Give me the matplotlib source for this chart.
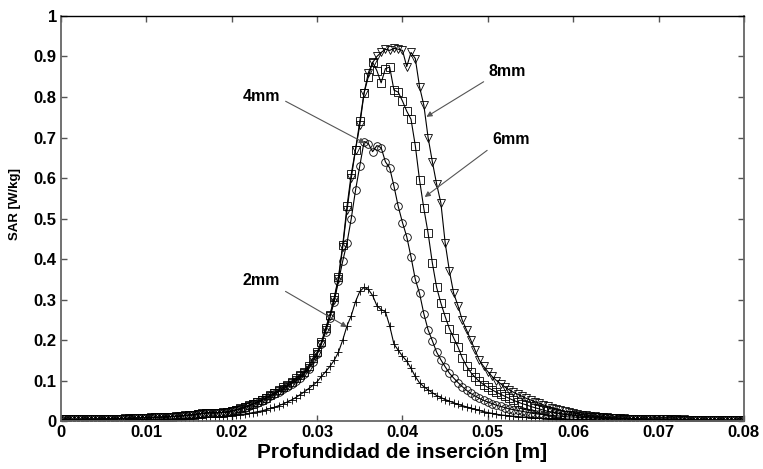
import numpy as np
import matplotlib
matplotlib.use('Agg')
import matplotlib.pyplot as plt

plt.rcParams['font.family'] = ['Liberation Sans', 'DejaVu Sans']

# depth samples: 0 .. 0.08 m every 0.5 mm (161 points)
depth = np.linspace(0, 0.08, 161)

# SAR values [W/kg], 10 samples per row
sar_2mm = [
    0.002, 0.002, 0.002, 0.002, 0.003, 0.002, 0.002, 0.003, 0.002, 0.003,
    0.003, 0.003, 0.003, 0.003, 0.003, 0.003, 0.004, 0.003, 0.004, 0.004,
    0.004, 0.004, 0.004, 0.005, 0.005, 0.005, 0.005, 0.006, 0.006, 0.006,
    0.007, 0.007, 0.008, 0.008, 0.009, 0.009, 0.010, 0.010, 0.011, 0.012,
    0.013, 0.014, 0.016, 0.017, 0.019, 0.021, 0.023, 0.025, 0.028, 0.031,
    0.034, 0.038, 0.042, 0.047, 0.052, 0.058, 0.065, 0.072, 0.080, 0.088,
    0.097, 0.110, 0.122, 0.135, 0.150, 0.170, 0.200, 0.235, 0.260, 0.295,
    0.320, 0.330, 0.325, 0.310, 0.285, 0.275, 0.270, 0.235, 0.190, 0.175,
    0.160, 0.148, 0.130, 0.110, 0.094, 0.085, 0.077, 0.070, 0.063, 0.058,
    0.053, 0.049, 0.045, 0.041, 0.038, 0.035, 0.032, 0.029, 0.026, 0.023,
    0.021, 0.019, 0.017, 0.015, 0.014, 0.013, 0.012, 0.011, 0.010, 0.009,
    0.008, 0.008, 0.007, 0.007, 0.006, 0.006, 0.006, 0.005, 0.005, 0.005,
    0.004, 0.004, 0.004, 0.004, 0.004, 0.003, 0.003, 0.003, 0.003, 0.003,
    0.003, 0.003, 0.002, 0.002, 0.002, 0.002, 0.002, 0.002, 0.002, 0.002,
    0.002, 0.002, 0.002, 0.002, 0.002, 0.001, 0.002, 0.001, 0.001, 0.001,
    0.001, 0.001, 0.001, 0.001, 0.001, 0.001, 0.001, 0.001, 0.001, 0.001,
    0.001]

sar_4mm = [
    0.003, 0.004, 0.004, 0.004, 0.004, 0.004, 0.005, 0.004, 0.005, 0.005,
    0.005, 0.005, 0.005, 0.006, 0.006, 0.006, 0.007, 0.007, 0.007, 0.008,
    0.008, 0.008, 0.009, 0.009, 0.010, 0.010, 0.011, 0.012, 0.012, 0.013,
    0.014, 0.015, 0.017, 0.018, 0.019, 0.020, 0.020, 0.021, 0.021, 0.022,
    0.024, 0.027, 0.030, 0.033, 0.037, 0.041, 0.045, 0.050, 0.055, 0.061,
    0.066, 0.072, 0.078, 0.085, 0.092, 0.099, 0.107, 0.116, 0.128, 0.145,
    0.165, 0.190, 0.220, 0.255, 0.295, 0.345, 0.395, 0.440, 0.500, 0.570,
    0.630, 0.690, 0.685, 0.665, 0.680, 0.675, 0.640, 0.625, 0.580, 0.530,
    0.490, 0.455, 0.405, 0.350, 0.315, 0.265, 0.225, 0.198, 0.170, 0.151,
    0.134, 0.118, 0.106, 0.095, 0.085, 0.076, 0.068, 0.062, 0.056, 0.051,
    0.047, 0.043, 0.039, 0.036, 0.033, 0.030, 0.028, 0.026, 0.024, 0.022,
    0.020, 0.018, 0.017, 0.016, 0.015, 0.014, 0.013, 0.012, 0.011, 0.010,
    0.010, 0.009, 0.009, 0.008, 0.008, 0.007, 0.007, 0.006, 0.006, 0.006,
    0.005, 0.005, 0.005, 0.005, 0.004, 0.004, 0.004, 0.004, 0.004, 0.003,
    0.003, 0.003, 0.003, 0.003, 0.003, 0.003, 0.002, 0.003, 0.002, 0.002,
    0.002, 0.002, 0.002, 0.002, 0.002, 0.002, 0.002, 0.002, 0.002, 0.001,
    0.002]

sar_6mm = [
    0.004, 0.005, 0.004, 0.004, 0.005, 0.004, 0.005, 0.005, 0.004, 0.005,
    0.005, 0.006, 0.005, 0.006, 0.006, 0.007, 0.006, 0.007, 0.008, 0.008,
    0.008, 0.009, 0.009, 0.010, 0.010, 0.011, 0.011, 0.012, 0.013, 0.014,
    0.015, 0.016, 0.017, 0.019, 0.020, 0.021, 0.021, 0.020, 0.022, 0.023,
    0.025, 0.028, 0.031, 0.035, 0.039, 0.043, 0.048, 0.053, 0.058, 0.064,
    0.070, 0.076, 0.083, 0.090, 0.097, 0.105, 0.113, 0.122, 0.136, 0.155,
    0.170, 0.195, 0.230, 0.262, 0.305, 0.355, 0.435, 0.530, 0.610, 0.670,
    0.740, 0.810, 0.850, 0.886, 0.865, 0.835, 0.870, 0.874, 0.817, 0.812,
    0.790, 0.765, 0.745, 0.680, 0.595, 0.525, 0.464, 0.390, 0.330, 0.291,
    0.258, 0.228, 0.205, 0.183, 0.156, 0.136, 0.120, 0.108, 0.098, 0.090,
    0.083, 0.077, 0.071, 0.066, 0.061, 0.056, 0.051, 0.047, 0.043, 0.040,
    0.036, 0.033, 0.030, 0.027, 0.024, 0.022, 0.020, 0.018, 0.016, 0.015,
    0.014, 0.013, 0.012, 0.011, 0.010, 0.009, 0.009, 0.008, 0.008, 0.007,
    0.007, 0.006, 0.006, 0.006, 0.005, 0.005, 0.005, 0.005, 0.004, 0.004,
    0.004, 0.004, 0.004, 0.003, 0.004, 0.003, 0.003, 0.003, 0.003, 0.003,
    0.003, 0.002, 0.003, 0.002, 0.002, 0.002, 0.002, 0.002, 0.002, 0.002,
    0.002]

sar_8mm = [
    0.004, 0.004, 0.005, 0.004, 0.004, 0.005, 0.004, 0.005, 0.005, 0.005,
    0.005, 0.005, 0.006, 0.006, 0.006, 0.006, 0.007, 0.007, 0.007, 0.008,
    0.008, 0.008, 0.009, 0.009, 0.010, 0.010, 0.011, 0.011, 0.012, 0.013,
    0.014, 0.015, 0.017, 0.018, 0.020, 0.021, 0.020, 0.020, 0.021, 0.022,
    0.024, 0.027, 0.030, 0.034, 0.038, 0.042, 0.047, 0.052, 0.057, 0.062,
    0.068, 0.074, 0.080, 0.087, 0.094, 0.102, 0.110, 0.118, 0.132, 0.150,
    0.165, 0.190, 0.225, 0.260, 0.300, 0.350, 0.430, 0.520, 0.600, 0.670,
    0.730, 0.810, 0.860, 0.885, 0.900, 0.910, 0.918, 0.915, 0.920, 0.918,
    0.915, 0.875, 0.910, 0.895, 0.825, 0.780, 0.700, 0.640, 0.585, 0.538,
    0.440, 0.370, 0.315, 0.285, 0.249, 0.225, 0.200, 0.175, 0.150, 0.135,
    0.122, 0.110, 0.100, 0.092, 0.084, 0.077, 0.071, 0.066, 0.061, 0.056,
    0.052, 0.048, 0.044, 0.040, 0.036, 0.033, 0.030, 0.027, 0.024, 0.022,
    0.020, 0.018, 0.016, 0.015, 0.013, 0.012, 0.011, 0.010, 0.009, 0.008,
    0.008, 0.007, 0.007, 0.006, 0.006, 0.006, 0.005, 0.005, 0.005, 0.005,
    0.004, 0.004, 0.004, 0.004, 0.004, 0.003, 0.004, 0.003, 0.003, 0.003,
    0.003, 0.003, 0.003, 0.003, 0.003, 0.003, 0.002, 0.003, 0.002, 0.002,
    0.002]

labels = ['2mm', '4mm', '6mm', '8mm']
markers = ['+', 'o', 's', 'v']
series = [sar_2mm, sar_4mm, sar_6mm, sar_8mm]

x_ticks = [0, 0.01, 0.02, 0.03, 0.04, 0.05, 0.06, 0.07, 0.08]
x_tick_labels = ['0', '0.01', '0.02', '0.03', '0.04', '0.05', '0.06', '0.07', '0.08']
y_ticks = [0, 0.1, 0.2, 0.3, 0.4, 0.5, 0.6, 0.7, 0.8, 0.9, 1]
y_tick_labels = ['0', '0.1', '0.2', '0.3', '0.4', '0.5', '0.6', '0.7', '0.8', '0.9', '1']

fig = plt.figure(figsize=(7.63, 4.69), dpi=100)
ax = fig.add_axes([0.080, 0.1023, 0.895, 0.8636])

for vals, mk in zip(series, markers):
    ax.plot(depth, vals, color='black', lw=0.8, marker=mk, markersize=5.5,
            markerfacecolor='none', markeredgecolor='black', markeredgewidth=0.6)

# text labels with arrows pointing to each curve
ann = [
    ('8mm', (0.0523, 0.864), (0.0428, 0.751), (0.0, 0.0)),
    ('6mm', (0.0527, 0.696), (0.0426, 0.553), (0.0, 0.0)),
    ('4mm', (0.0235, 0.800), (0.0356, 0.686), (1.0, 0.4)),
    ('2mm', (0.0235, 0.346), (0.0335, 0.232), (1.0, 0.0)),
]
for txt, pos, tip, rp in ann:
    ax.annotate(txt, xy=tip, xytext=pos, ha='center', va='center',
                fontsize=11.5, fontweight='bold',
                arrowprops=dict(arrowstyle='-|>', color='#555555', lw=0.8,
                                mutation_scale=8, relpos=rp, shrinkA=2, shrinkB=0))

ax.set_xlim(0, 0.08)
ax.set_ylim(0, 1)
ax.set_xticks(x_ticks)
ax.set_xticklabels(x_tick_labels, fontsize=12, fontweight='bold')
ax.set_yticks(y_ticks)
ax.set_yticklabels(y_tick_labels, fontsize=12, fontweight='bold')
ax.tick_params(direction='in', length=4, width=1, color='#555555',
               top=True, right=True, pad=3)
ax.set_xlabel('Profundidad de inserción [m]', fontsize=15, fontweight='bold', labelpad=2)
ax.set_ylabel('SAR [W/kg]', fontsize=9.5, fontweight='bold')
ax.yaxis.set_label_coords(-0.058, 0.535)

for side in ['left', 'bottom', 'right']:
    ax.spines[side].set_color('#666666')
    ax.spines[side].set_linewidth(1.3)
ax.spines['top'].set_color('black')
ax.spines['top'].set_linewidth(1.0)

fig.savefig('out.png', dpi=100)
